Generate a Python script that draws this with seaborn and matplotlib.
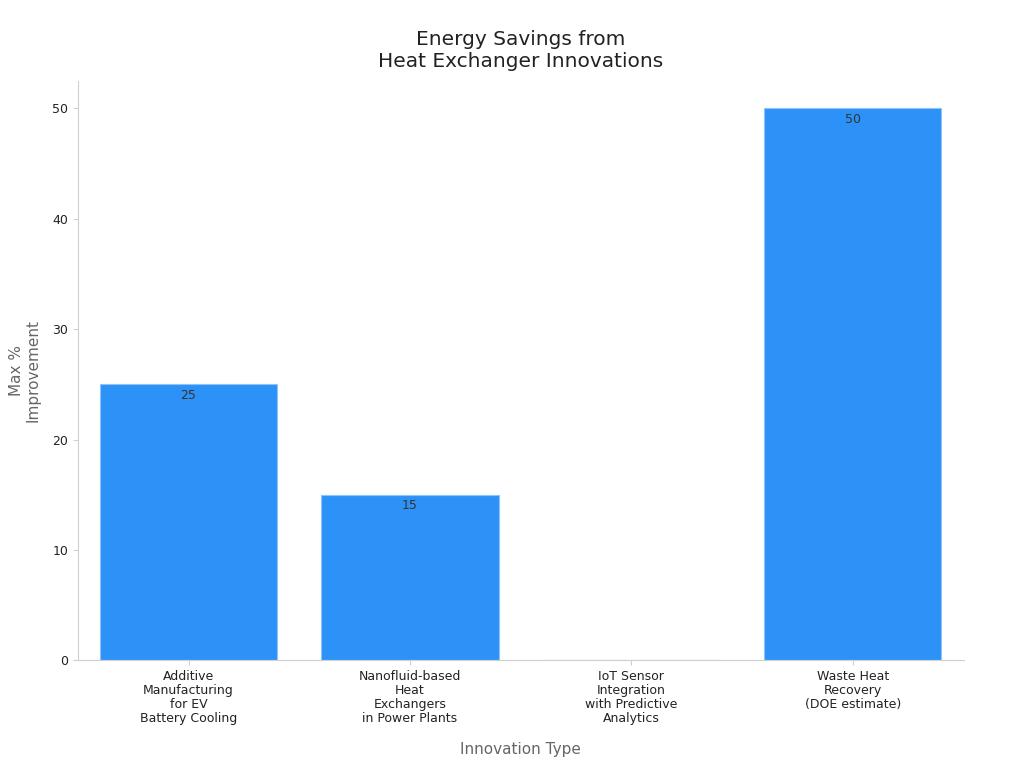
import matplotlib
matplotlib.use("Agg")
import matplotlib.pyplot as plt
import seaborn as sns
import pandas as pd

categories = ["Additive\nManufacturing\nfor EV\nBattery Cooling",
              "Nanofluid-based\nHeat\nExchangers\nin Power Plants",
              "IoT Sensor\nIntegration\nwith Predictive\nAnalytics",
              "Waste Heat\nRecovery\n(DOE estimate)"]
values = [25, 15, 0, 50]
labels = ["25", "15", "", "50"]

df = pd.DataFrame({"cat": categories, "val": values})
plt.rcParams["font.family"] = "DejaVu Sans"
fig = plt.figure(figsize=(10.24, 7.68), dpi=100)
ax = fig.add_axes([0.076, 0.14, 0.865, 0.755])
sns.barplot(data=df, x="cat", y="val", color="#2d92f7", saturation=1, width=0.8,
            edgecolor="#8ec4f7", linewidth=0.8, ax=ax)
for i, (v, l) in enumerate(zip(values, labels)):
    if l:
        ax.text(i, v - 0.4, l, ha="center", va="top", fontsize=9, color="#333333")
ax.set_ylim(0, 52.5)
ax.set_xlim(-0.5, 3.5)
ax.set_yticks([0, 10, 20, 30, 40, 50])
for s in ["top", "right"]:
    ax.spines[s].set_visible(False)
for s in ["left", "bottom"]:
    ax.spines[s].set_color("#d0d0d0")
ax.tick_params(axis="both", colors="#d0d0d0", labelcolor="#222222", labelsize=9)
plt.setp(ax.get_xticklabels(), linespacing=1.1)
ax.set_xlabel("Innovation Type", fontsize=11, color="#666666", labelpad=12)
ax.set_ylabel("Max %\nImprovement", fontsize=11, color="#666666", labelpad=8)
ax.set_title("Energy Savings from\nHeat Exchanger Innovations", fontsize=14.5, color="#222222", pad=10)
fig.savefig("out.png", dpi=100)
